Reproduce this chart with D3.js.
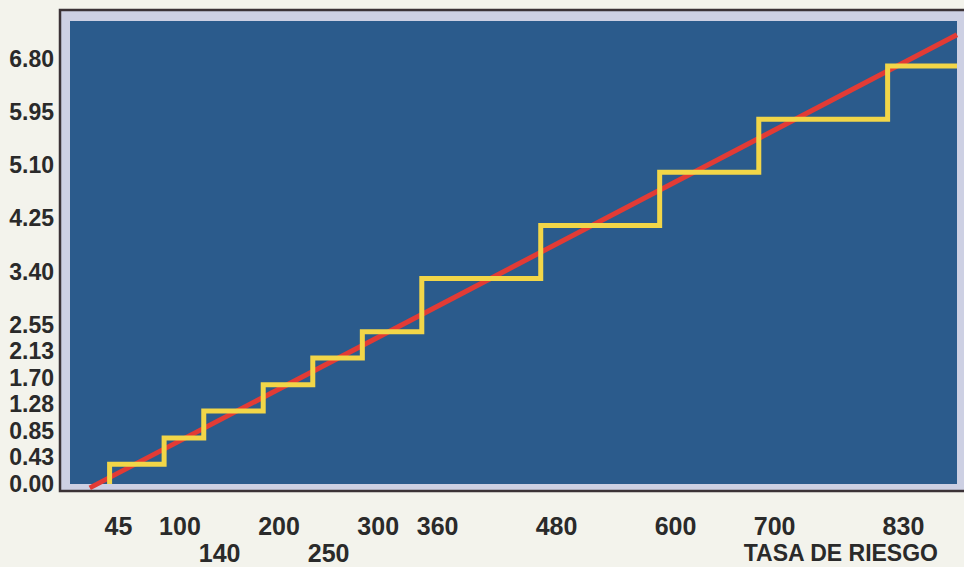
<!DOCTYPE html>
<html>
<head>
<meta charset="utf-8">
<script src="https://cdn.jsdelivr.net/npm/d3@7"></script>
<style>
  html, body { margin: 0; padding: 0; background: #f3f3ec; }
  svg { display: block; }
  text { font-family: "Liberation Sans", Arial, Helvetica, sans-serif; font-weight: bold; fill: #2a2a2a; }
</style>
</head>
<body>
<div id="app"></div>
<script>
// tasa de riesgo (x) where each step jumps
const stepX = [45, 100, 140, 200, 250, 300, 360, 480, 600, 700, 830];
// level reached at each step
const stepY = [0.43, 0.85, 1.28, 1.70, 2.13, 2.55, 3.40, 4.25, 5.10, 5.95, 6.80];
// x ticks printed on the second row
const lowRow = [140, 250];
// straight red line, two ends
const redX = [25, 900];
const redY = [0.05, 7.3];
const xEnd = 900;

let width = 964,
    height = 567;

const x = d3.scaleLinear().domain([0, xEnd]).range([65, 957]);
const y = d3.scaleLinear().domain([0, 6.8]).range([491, 66]);

const svg = d3.select("#app").append("svg")
    .attr("width", width)
    .attr("height", height);

// frame: dark outline, light border, blue field
svg.append("rect")
    .attr("x", 60).attr("y", 10)
    .attr("width", 910).attr("height", 481)
    .attr("fill", "#cdd0e3")
    .attr("stroke", "#3b3236")
    .attr("stroke-width", 2.5);

svg.append("rect")
    .attr("x", 70).attr("y", 21)
    .attr("width", x(xEnd) - 70).attr("height", 484 - 21)
    .attr("fill", "#2b5b8c");

svg.append("clipPath").attr("id", "field")
    .append("rect")
    .attr("x", 70).attr("y", 21)
    .attr("width", x(xEnd) - 70).attr("height", 484 - 21);

// red line
const red = redX.map((d, i) => [d, redY[i]]);
svg.append("path")
    .datum(red)
    .attr("fill", "none")
    .attr("stroke", "#e23b35")
    .attr("stroke-width", 5)
    .attr("d", d3.line().x(d => x(d[0])).y(d => y(d[1])));

// yellow staircase
const steps = [[stepX[0], 0]]
    .concat(stepX.map((d, i) => [d, stepY[i]]))
    .concat([[xEnd, stepY[stepY.length - 1]]]);

svg.append("path")
    .datum(steps)
    .attr("clip-path", "url(#field)")
    .attr("fill", "none")
    .attr("stroke", "#f2d648")
    .attr("stroke-width", 5)
    .attr("stroke-linejoin", "miter")
    .attr("d", d3.line().curve(d3.curveStepAfter).x(d => x(d[0])).y(d => y(d[1])));

// y labels, baseline on the level
svg.append("g")
    .selectAll("text")
    .data([0].concat(stepY))
    .join("text")
    .attr("x", 54)
    .attr("y", d => y(d) + 1)
    .attr("text-anchor", "end")
    .style("font-size", "23px")
    .text(d => d3.format(".2f")(d));

// x labels, two rows
svg.append("g")
    .selectAll("text")
    .data(stepX)
    .join("text")
    .attr("x", d => x(d) - 5)
    .attr("y", d => lowRow.includes(d) ? 562 : 535)
    .style("font-size", "25px")
    .text(d => d);

svg.append("text")
    .attr("x", 938)
    .attr("y", 561)
    .attr("text-anchor", "end")
    .style("font-size", "23px")
    .text("TASA DE RIESGO");
</script>
</body>
</html>
